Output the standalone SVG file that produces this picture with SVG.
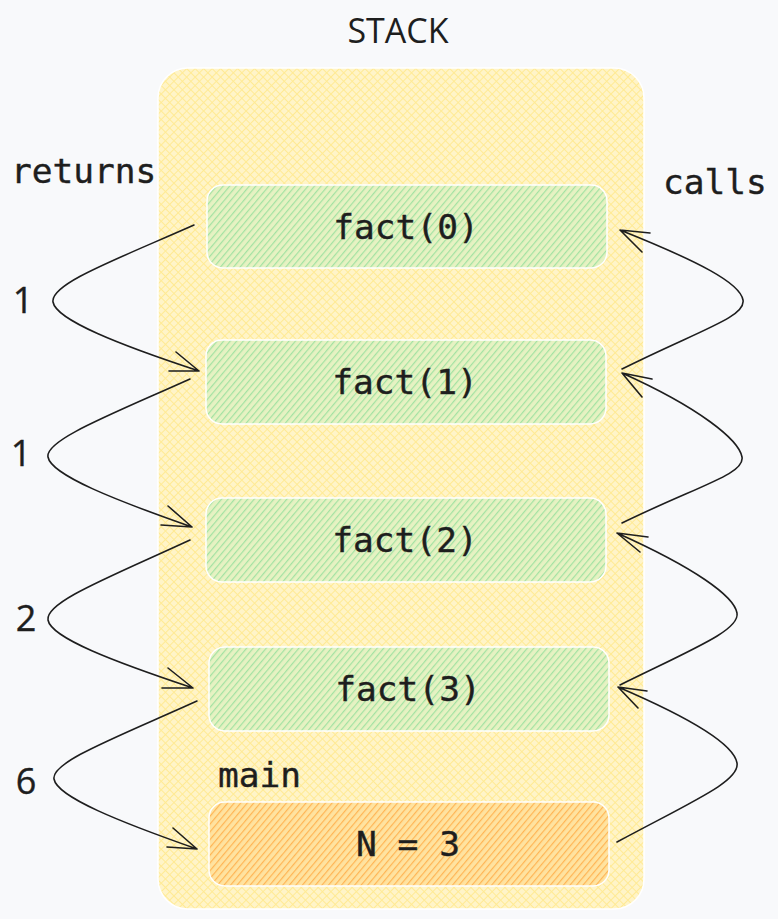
<svg xmlns="http://www.w3.org/2000/svg" width="778" height="919" viewBox="0 0 778 919">
<defs>
<pattern id="yel" width="6" height="6" patternUnits="userSpaceOnUse" patternTransform="rotate(45)">
<rect width="6" height="6" fill="#fff4c8"/>
<line x1="0" y1="0" x2="0" y2="6" stroke="#ffea94" stroke-width="2"/>
<line x1="0" y1="0" x2="6" y2="0" stroke="#ffea94" stroke-width="2"/>
</pattern>
<pattern id="grn" width="5" height="5" patternUnits="userSpaceOnUse" patternTransform="rotate(40)">
<rect width="5" height="5" fill="#e6f2c2"/>
<line x1="0" y1="0" x2="0" y2="5" stroke="#a2e2a2" stroke-width="2.4"/>
</pattern>
<pattern id="org" width="5" height="5" patternUnits="userSpaceOnUse" patternTransform="rotate(40)">
<rect width="5" height="5" fill="#ffe3a0"/>
<line x1="0" y1="0" x2="0" y2="5" stroke="#ffb554" stroke-width="2.4"/>
</pattern>
</defs>
<style>
.mono{font-family:"DejaVu Sans Mono","Liberation Mono",monospace;font-size:34.5px;fill:#1e1e1e;stroke:#1e1e1e;stroke-width:0.4}
.sans{font-family:"Open Sans","Noto Sans",sans-serif;font-size:34px;fill:#1e1e1e}
.num{font-size:36px;stroke:#1e1e1e;stroke-width:0.4}
.box{stroke:#ffffff;stroke-width:1.5}
.arr{fill:none;stroke:#1e1e1e;stroke-width:1.6;stroke-linecap:round;stroke-linejoin:round}
</style>
<rect width="778" height="919" fill="#f8f9fb"/>
<g id="stack">
<rect class="box" x="158" y="68" width="486" height="841" rx="30" fill="url(#yel)" stroke-width="2"/>
<text class="sans" x="398" y="43" text-anchor="middle">STACK</text>
</g>
<g id="fact0">
<rect class="box" x="207" y="185" width="400" height="83" rx="16" fill="url(#grn)"/>
<text class="mono" x="406" y="239" text-anchor="middle">fact(0)</text>
</g>
<g id="fact1">
<rect class="box" x="206" y="340" width="400" height="84" rx="16" fill="url(#grn)"/>
<text class="mono" x="405" y="394" text-anchor="middle">fact(1)</text>
</g>
<g id="fact2">
<rect class="box" x="206" y="498" width="400" height="84" rx="16" fill="url(#grn)"/>
<text class="mono" x="405" y="552" text-anchor="middle">fact(2)</text>
</g>
<g id="fact3">
<rect class="box" x="209" y="647" width="400" height="84" rx="16" fill="url(#grn)"/>
<text class="mono" x="408" y="701" text-anchor="middle">fact(3)</text>
</g>
<g id="main">
<rect class="box" x="209" y="802" width="400" height="84" rx="16" fill="url(#org)"/>
<text class="mono" x="408" y="856" text-anchor="middle">N = 3</text>
<text class="mono" x="218" y="787">main</text>
</g>
<g id="labels">
<text class="mono" x="11" y="183">returns</text>
<text class="mono" x="663" y="194">calls</text>
<text class="sans num" x="23" y="313" text-anchor="middle">1</text>
<text class="sans num" x="21" y="466" text-anchor="middle">1</text>
<text class="sans num" x="26" y="631" text-anchor="middle">2</text>
<text class="sans num" x="26" y="794" text-anchor="middle">6</text>
</g>
<g id="connectors">
<path class="arr" d="M194,225 C115,260 50,284 53,302 C56,320 120,345 199,371 M176,352 L199,371 L169,371"/>
<path class="arr" d="M190,379 C110,415 45,440 48,457 C51,475 115,500 192,527 M168,506 L192,527 L161,525"/>
<path class="arr" d="M190,540 C110,577 45,602 48,620 C51,638 115,662 193,688 M168,668 L193,688 L162,688"/>
<path class="arr" d="M197,701 C115,738 51,762 54,779 C57,797 120,822 197,849 M173,828 L197,849 L167,847"/>
<path class="arr" d="M622,369 C700,330 746,317 743,300 C740,283 700,262 620,230 M650,233 L620,230 L642,252"/>
<path class="arr" d="M622,523 C700,485 745,474 742,457 C739,440 700,408 622,373 M652,379 L622,373 L642,397"/>
<path class="arr" d="M620,685 C695,648 740,630 737,613 C734,596 695,568 617,533 M648,537 L617,533 L640,552"/>
<path class="arr" d="M617,842 C695,800 740,781 737,763 C734,745 695,720 618,687 M647,691 L618,687 L638,708"/>
</g>
</svg>
